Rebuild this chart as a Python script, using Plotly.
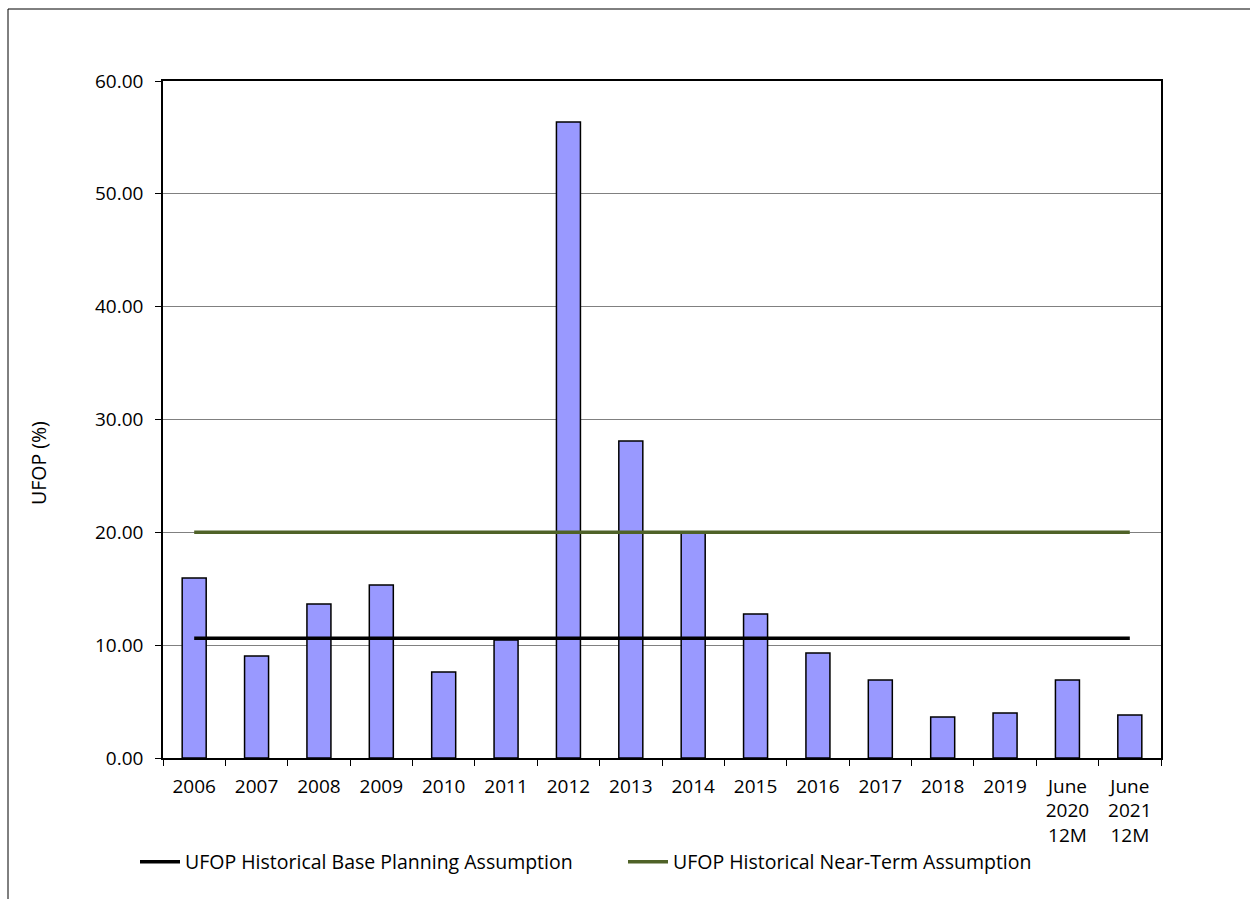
import plotly.graph_objects as go

categories = ["2006", "2007", "2008", "2009", "2010", "2011", "2012", "2013", "2014",
              "2015", "2016", "2017", "2018", "2019", "June<br>2020<br>12M", "June<br>2021<br>12M"]
ufop = [15.95, 9.04, 13.65, 15.33, 7.62, 10.46, 56.37, 28.1, 19.95,
        12.76, 9.31, 6.91, 3.63, 3.99, 6.91, 3.81]
base_planning = [10.62] * len(categories)
near_term = [20.0] * len(categories)

FONT = "Open Sans"

fig = go.Figure()
fig.add_trace(go.Bar(
    x=categories, y=ufop, name="UFOP",
    marker=dict(color="#9999FF", line=dict(color="black", width=1.5)),
    showlegend=False,
))
fig.add_trace(go.Scatter(
    x=categories, y=base_planning, mode="lines",
    name="UFOP Historical Base Planning Assumption",
    line=dict(color="black", width=3.5), legend="legend",
))
fig.add_trace(go.Scatter(
    x=categories, y=near_term, mode="lines",
    name="UFOP Historical Near-Term Assumption",
    line=dict(color="#4F6228", width=3.5), legend="legend2",
))

fig.update_layout(
    width=1250, height=899,
    margin=dict(l=163, r=89, t=81, b=141),
    paper_bgcolor="white", plot_bgcolor="white",
    font=dict(family=FONT, size=19, color="black"),
    bargap=0.615,
    legend=dict(x=(135 - 163) / 998, xanchor="left", y=-0.1536, yanchor="middle",
                font=dict(size=19.5), bgcolor="rgba(0,0,0,0)", itemwidth=40),
    legend2=dict(x=(623 - 163) / 998, xanchor="left", y=-0.1536, yanchor="middle",
                 font=dict(size=19.5), bgcolor="rgba(0,0,0,0)", itemwidth=40),
    xaxis=dict(
        type="category", showline=True, linecolor="black", linewidth=1.5,
        mirror=True, ticks="outside", tickson="boundaries", ticklen=6,
        tickcolor="black", showgrid=False, tickfont=dict(size=19),
        ticklabelstandoff=10,
    ),
    yaxis=dict(
        range=[0, 60], dtick=10, tickformat=".2f", showline=True,
        linecolor="black", linewidth=1.5, mirror=True, ticks="outside",
        ticklen=6, tickcolor="black", showgrid=True, gridcolor="#808080",
        gridwidth=1, zeroline=False, tickfont=dict(size=19),
        ticklabelstandoff=8,
    ),
    annotations=[dict(
        text="UFOP (%)", xref="paper", yref="paper",
        x=(39 - 163) / 998, y=(758 - 463) / 677, textangle=-90,
        xanchor="center", yanchor="middle",
        showarrow=False, font=dict(size=19.5, family=FONT),
    )],
    shapes=[dict(
        type="rect", xref="paper", yref="paper",
        x0=(8 - 163) / 998, x1=1.2, y0=-0.4, y1=(758 - 9) / 677,
        line=dict(color="black", width=1), fillcolor="rgba(0,0,0,0)",
        layer="below",
    )],
)

fig.write_html("out.html")
